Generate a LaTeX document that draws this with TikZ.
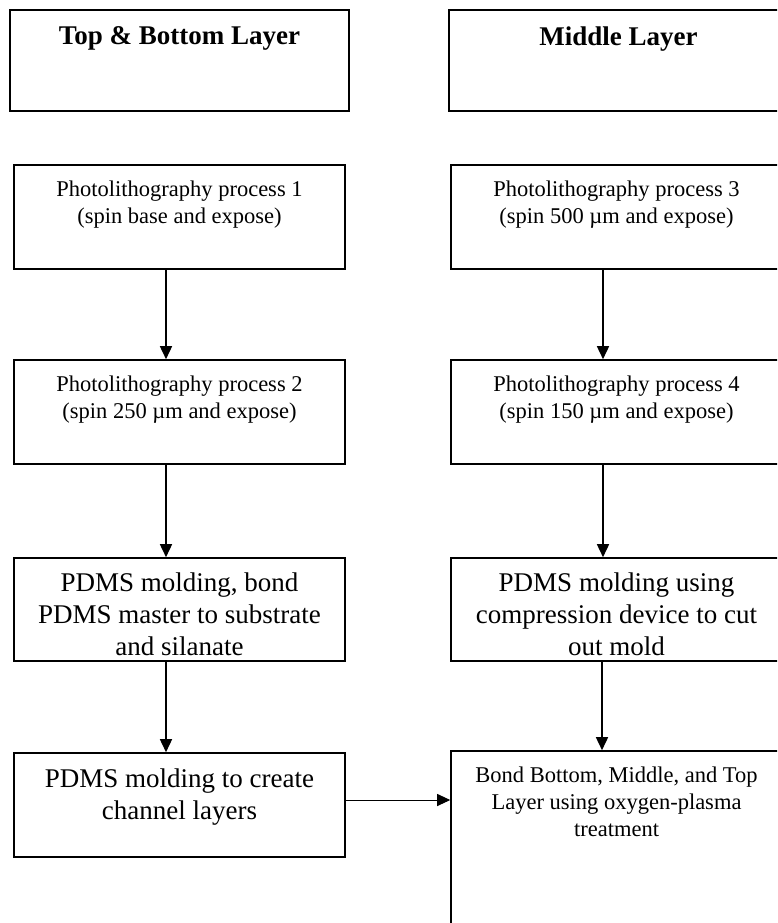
\documentclass[tikz,border=0pt]{standalone}
\usepackage{fontspec}
\setmainfont{Liberation Serif}
\usetikzlibrary{arrows.meta, positioning}

\begin{document}
\begin{tikzpicture}[
    x=1pt, y=-1pt,
    box/.style={rectangle, draw, line width=1.6pt, minimum width=331pt, minimum height=104pt, inner sep=0pt},
    headbox/.style={box, minimum width=339pt, minimum height=101pt},
    head/.style={font=\bfseries\fontsize{27}{32}\selectfont, inner sep=0pt},
    txt/.style={font=\fontsize{22.5}{27}\selectfont, align=center, inner sep=0pt},
    bigtxt/.style={font=\fontsize{27}{32}\selectfont, align=center, inner sep=0pt},
    arr/.style={-{Triangle[length=13pt, width=12pt]}, line width=1.6pt}
]
\useasboundingbox (0,0) rectangle (777,923);
\clip (0,0) rectangle (777,923);

% Column headers
\node[headbox] (hdtb)  at (179.5,60.5) {};
\node[headbox] (hdmid) at (618.5,60.5) {};
\node[head, below=17pt of hdtb.north]  (hdtbtxt)  {Top \& Bottom Layer};
\node[head, below=17pt of hdmid.north] (hdmidtxt) {Middle Layer};

% Left column: top & bottom layer
\node[box] (litho1) at (179.5,217) {};
\node[box] (litho2) at (179.5,412) {};
\node[box, minimum height=103pt] (mold1) at (179.5,609.5) {};
\node[box] (chan) at (179.5,805) {};
\node[txt, below=16pt of litho1.north] (litho1txt) {Photolithography process 1\\(spin base and expose)};
\node[txt, below=16pt of litho2.north] (litho2txt) {Photolithography process 2\\(spin 250 µm and expose)};
\node[bigtxt, below=15pt of mold1.north] (mold1txt) {PDMS molding, bond\\PDMS master to substrate\\and silanate};
\node[bigtxt, below=16pt of chan.north] (chantxt) {PDMS molding to create\\channel layers};

% Right column: middle layer
\node[box] (litho3) at (616.5,217) {};
\node[box] (litho4) at (616.5,412) {};
\node[box, minimum height=103pt] (mold2) at (616.5,609.5) {};
\node[box, minimum height=350pt] (bond) at (616.5,926) {};
\node[txt, below=16pt of litho3.north] (litho3txt) {Photolithography process 3\\(spin 500 µm and expose)};
\node[txt, below=16pt of litho4.north] (litho4txt) {Photolithography process 4\\(spin 150 µm and expose)};
\node[bigtxt, below=15pt of mold2.north] (mold2txt) {PDMS molding using\\compression device to cut\\out mold};
\node[txt, below=16pt of bond.north] (bondtxt) {Bond Bottom, Middle, and Top\\Layer using oxygen-plasma\\treatment};

% Process arrows
\draw[arr] ([xshift=-13.5pt]litho1.south) -- ([xshift=-13.5pt]litho2.north);
\draw[arr] ([xshift=-13.5pt]litho2.south) -- ([xshift=-13.5pt]mold1.north);
\draw[arr] ([xshift=-13.5pt]mold1.south) -- ([xshift=-13.5pt]chan.north);
\draw[arr] ([xshift=-13.5pt]litho3.south) -- ([xshift=-13.5pt]litho4.north);
\draw[arr] ([xshift=-13.5pt]litho4.south) -- ([xshift=-13.5pt]mold2.north);
\draw[arr] ([xshift=-14.5pt]mold2.south) -- ([xshift=-14.5pt]bond.north);

% Join the layers
\draw[arr, line width=1pt] ([yshift=5pt]chan.east) -- ([yshift=5pt]chan.east -| bond.west);
\end{tikzpicture}
\end{document}
